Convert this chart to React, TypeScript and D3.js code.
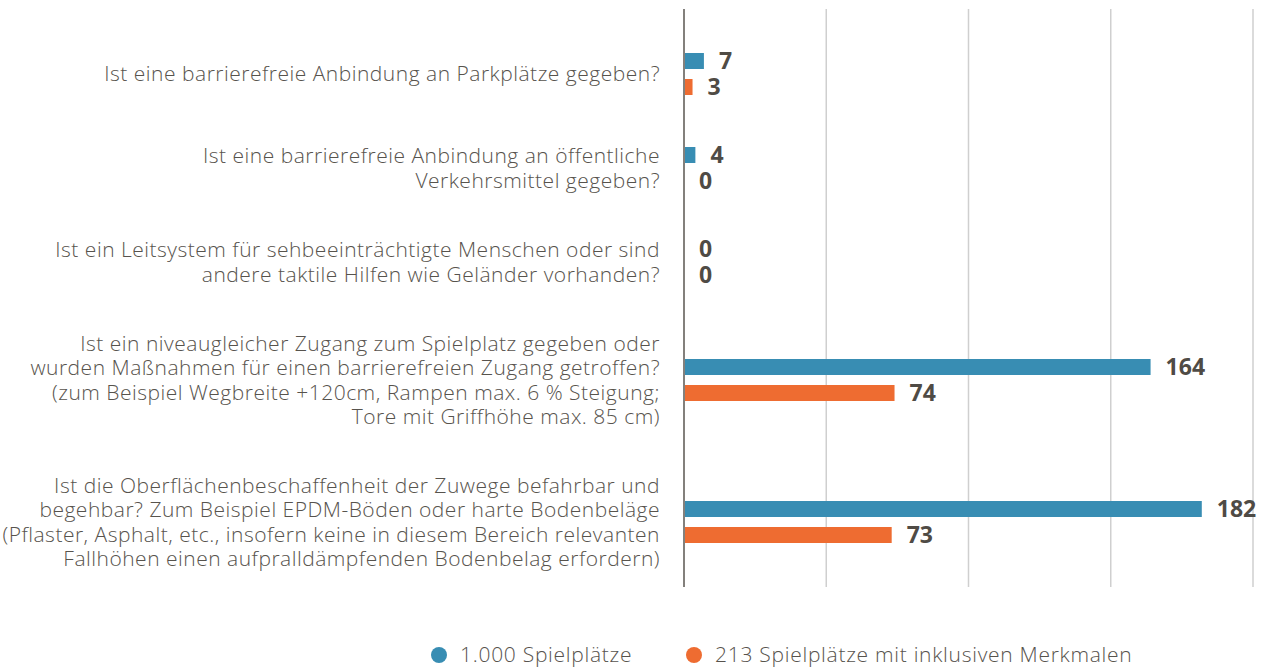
import React from "react";
import * as d3 from "d3";

const categories: string[][] = [
  ["Ist eine barrierefreie Anbindung an Parkplätze gegeben?"],
  ["Ist eine barrierefreie Anbindung an öffentliche", "Verkehrsmittel gegeben?"],
  ["Ist ein Leitsystem für sehbeeinträchtigte Menschen oder sind", "andere taktile Hilfen wie Geländer vorhanden?"],
  [
    "Ist ein niveaugleicher Zugang zum Spielplatz gegeben oder",
    "wurden Maßnahmen für einen barrierefreien Zugang getroffen?",
    "(zum Beispiel Wegbreite +120cm, Rampen max. 6 % Steigung;",
    "Tore mit Griffhöhe max. 85 cm)",
  ],
  [
    "Ist die Oberflächenbeschaffenheit der Zuwege befahrbar und",
    "begehbar? Zum Beispiel EPDM-Böden oder harte Bodenbeläge",
    "(Pflaster, Asphalt, etc., insofern keine in diesem Bereich relevanten",
    "Fallhöhen einen aufpralldämpfenden Bodenbelag erfordern)",
  ],
];
const seriesAll = [7, 4, 0, 164, 182];
const seriesInclusive = [3, 0, 0, 74, 73];
const seriesNames = ["1.000 Spielplätze", "213 Spielplätze mit inklusiven Merkmalen"];
const xTicks = [0, 50, 100, 150, 200];

const COLORS = ["#388db3", "#ee6c31"];
const TEXT = "#57534d";
const VAL = "#4f4b45";

export default function App() {
  const W = 1264;
  const H = 669;
  const x = d3.scaleLinear().domain([0, 200]).range([684, 1253]);
  const lineH = 24.5;
  const minH = 50;
  const gap = 44;
  const heights = categories.map((c) => Math.max(minH, c.length * lineH));
  const centers: number[] = [];
  heights.forEach((h, i) => {
    if (i === 0) centers.push(74);
    else centers.push(centers[i - 1] + (heights[i - 1] + h) / 2 + gap);
  });
  const barH = 16;
  const series = [seriesAll, seriesInclusive];
  const offsets = [-21, 5];
  const labelFont = "'Open Sans', Lato, sans-serif";

  return (
    <svg width={W} height={H} style={{ position: "absolute", left: 0, top: 0 }}>
      {xTicks.map((t) => (
        <line
          key={t}
          x1={x(t)}
          x2={x(t)}
          y1={9}
          y2={587}
          stroke={t === 0 ? "#5a5650" : "#cfcfcf"}
          strokeWidth={1.5}
        />
      ))}
      {categories.map((lines, i) => (
        <text
          key={"c" + i}
          textAnchor="end"
          fontFamily={labelFont}
          fontWeight={300}
          fontSize={21}
          letterSpacing={0.5}
          fill={TEXT}
        >
          {lines.map((l, k) => (
            <tspan key={k} x={660} y={centers[i] + (k - (lines.length - 1) / 2) * lineH} dy="0.35em">
              {l}
            </tspan>
          ))}
        </text>
      ))}
      {series.map((s, si) =>
        s.map((v, i) => (
          <g key={si + "-" + i}>
            {v > 0 && (
              <rect
                x={x(0) + 1}
                y={centers[i] + offsets[si]}
                width={x(v) - x(0) - 1}
                height={barH}
                fill={COLORS[si]}
              />
            )}
            <text
              x={x(v) + 15}
              y={centers[i] + offsets[si] + barH / 2}
              dy="0.36em"
              fontFamily="'Open Sans', sans-serif"
              fontWeight={700}
              fontSize={23}
              fill={VAL}
            >
              {v}
            </text>
          </g>
        ))
      )}
      {seriesNames.map((n, i) => {
        const lx = [439, 694][i];
        return (
          <g key={"l" + i}>
            <circle cx={lx} cy={655} r={8} fill={COLORS[i]} />
            <text
              x={lx + 21}
              y={655}
              dy="0.35em"
              fontFamily={labelFont}
              fontWeight={300}
              fontSize={21}
              letterSpacing={0.72}
              fill={TEXT}
            >
              {n}
            </text>
          </g>
        );
      })}
    </svg>
  );
}
